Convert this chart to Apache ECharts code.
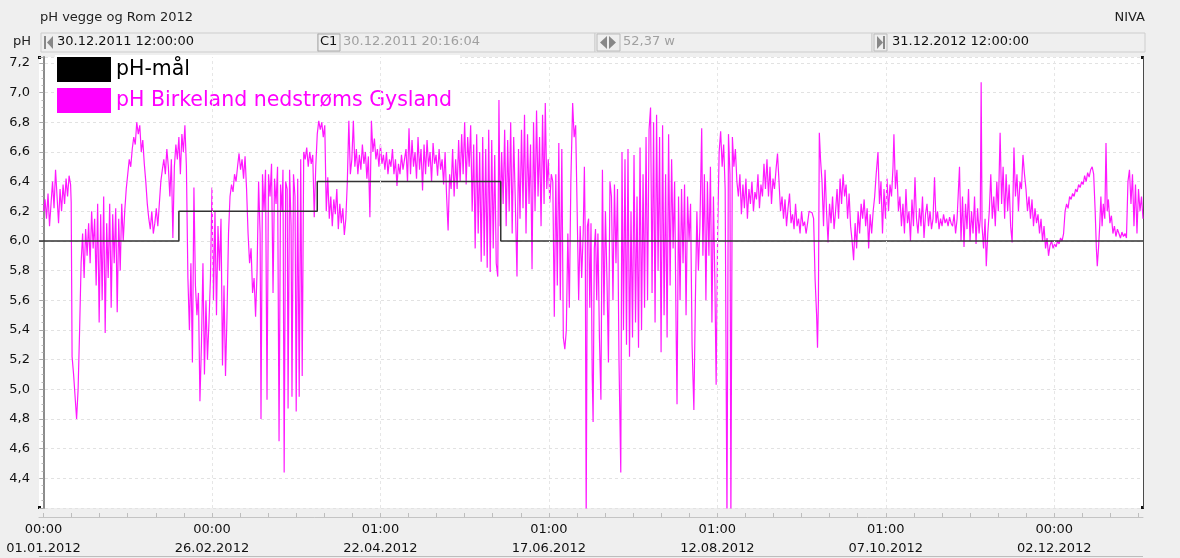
<!DOCTYPE html>
<html>
<head>
<meta charset="utf-8">
<title>pH vegge og Rom 2012</title>
<script src="https://cdn.jsdelivr.net/npm/echarts@6/dist/echarts.min.js"></script>
<style>
html, body { margin: 0; padding: 0; background: #efefef; }
#chart { width: 1180px; height: 558px; }
</style>
</head>
<body>
<div id="chart"></div>
<script>
var FONT = 'DejaVu Sans';

// dager regnet fra 01.01.2012 00:00
var targetDays = [-1.5, 45, 91, 152, 365.5];
var targetPh = [6.0, 6.2, 6.4, 6.0, 6.0];

var birkeland = [
    [0,6.20],[0.5,6.28],[1,6.15],[1.5,6.32],[2,6.10],[2.5,6.25],[3,6.40],[3.5,6.22],[4,6.48],[4.5,6.30],[5,6.12],[5.5,6.35],[6,6.20],[6.5,6.38],[7,6.25],[7.5,6.42],[8,6.30],[8.5,6.44],[9,6.38],[9.2,6.26],
    [9.5,5.22],[10,5.10],[10.5,4.95],[11,4.80],[11.5,5.00],[12,5.40],[12.5,5.85],[13,6.05],
    [13.5,5.75],[14,6.08],[14.5,5.90],[15,6.12],[15.5,5.85],[16,6.20],[16.5,5.95],[17,6.15],[17.5,5.70],[18,6.25],[18.5,5.45],[19,6.18],[19.5,5.60],[20,6.30],[20.5,5.38],[21,6.12],[21.5,5.75],[22,6.25],[22.5,5.55],[23,6.18],[23.5,5.85],[24,6.22],[24.5,5.52],[25,6.15],[25.5,5.80],[26,6.25],[26.5,6.00],[27,6.20],[27.5,6.35],
    [28,6.45],[28.5,6.55],[29,6.50],[29.5,6.62],[30,6.70],[30.5,6.65],[31,6.80],[31.5,6.72],[32,6.78],[32.5,6.60],[33,6.68],[33.5,6.52],
    [34,6.40],[34.5,6.25],[35,6.15],[35.5,6.08],[36,6.20],[36.5,6.05],[37,6.12],[37.5,6.22],[38,6.10],[38.5,6.25],
    [39,6.40],[39.5,6.48],[40,6.55],[40.5,6.45],[41,6.62],[41.5,6.50],[42,6.30],[42.5,6.55],[43,6.02],[43.5,6.50],[44,6.65],[44.5,6.55],[45,6.70],[45.5,6.45],[46,6.72],[46.5,6.60],[47,6.78],[47.5,6.50],
    [48,5.75],[48.5,5.40],[49,5.85],[49.5,5.18],[50,6.36],[50.5,5.70],[51,5.50],[51.5,5.65],[52,4.92],[52.5,5.30],[53,5.85],[53.5,5.10],[54,5.60],[54.5,5.20],[55,5.45],[55.5,5.75],[56,6.36],[56.5,5.60],[57,6.20],[57.5,5.50],[58,6.10],[58.5,5.80],[59,6.15],
    [59.5,5.16],[60,5.70],[60.5,5.09],[61,5.50],[61.5,6.05],
    [62,6.30],[62.5,6.38],[63,6.33],[63.5,6.45],[64,6.40],[64.5,6.50],[65,6.59],[65.5,6.48],[66,6.55],[66.5,6.42],[67,6.57],[67.5,6.35],
    [68,6.05],[68.5,5.85],[69,5.95],[69.5,5.65],[70,5.75],[70.5,5.49],[71,5.80],
    [71.5,6.40],[72,6.05],[72.3,4.80],[72.8,6.45],[73.3,6.20],[73.8,6.48],[74.3,4.93],[74.8,6.45],[75.3,6.30],[75.8,6.52],[76.3,5.65],[76.8,6.42],[77.3,6.25],[77.8,6.50],[78.3,4.65],[78.8,6.38],[79.3,6.20],[79.6,6.48],[80,4.44],[80.5,6.40],[81,6.35],[81.3,4.87],[81.8,6.48],[82.3,6.10],[82.6,4.95],[83.1,6.45],[83.6,6.30],[84,4.85],[84.5,6.42],[85,4.95],[85.5,6.55],[86,5.09],[86.5,6.60],
    [87,6.55],[87.5,6.63],[88,6.50],[88.5,6.60],[89,6.52],[89.5,6.58],[90,6.16],[90.5,6.50],
    [91,6.72],[91.5,6.81],[92,6.75],[92.5,6.80],[93,6.70],[93.5,6.78],
    [94,6.20],[94.5,6.43],[95,6.15],[95.5,6.30],[96,6.10],[96.5,6.28],[97,6.18],[97.5,6.35],[98,6.08],[98.5,6.25],[99,6.12],[99.5,6.22],[100,6.04],[100.5,6.15],
    [101,6.40],[101.5,6.81],[102,6.45],[102.5,6.55],[103,6.81],[103.5,6.50],[104,6.62],[104.5,6.45],[105,6.58],[105.5,6.48],[106,6.65],[106.5,6.52],[107,6.60],[107.5,6.42],[108,6.57],[108.5,6.16],[109,6.81],[109.5,6.60],
    [110,6.69],[110.5,6.55],[111,6.62],[111.5,6.50],[112,6.65],[112.5,6.52],[113,6.58],[113.5,6.48],[114,6.60],[114.5,6.45],[115,6.55],[115.5,6.50],[116,6.62],[116.5,6.45],[117,6.55],[117.5,6.37],[118,6.52],[118.5,6.45],[119,6.58],[119.5,6.48],[120,6.55],
    [120.5,6.62],[121,6.40],[121.5,6.76],[122,6.45],[122.5,6.68],[123,6.50],[123.5,6.60],[124,6.42],[124.5,6.70],[125,6.48],[125.5,6.62],[126,6.34],[126.5,6.65],[127,6.45],[127.5,6.68],[128,6.50],[128.5,6.60],[129,6.40],[129.5,6.66],[130,6.52],[130.5,6.58],[131,6.44],[131.5,6.62],[132,6.48],[132.5,6.55],[133,6.38],[133.5,6.60],[134,6.30],[134.5,6.07],[135,6.45],[135.5,6.35],[136,6.62],[136.5,6.30],[137,6.55],[137.5,6.35],[138,6.68],[138.5,6.40],[139,6.72],[139.5,6.45],[140,6.80],[140.5,6.38],[141,6.70],[141.5,6.50],[142,6.78],
    [142.5,6.20],[143,6.65],[143.5,5.95],[144,6.72],[144.5,6.05],[145,6.60],[145.5,5.86],[146,6.70],[146.5,5.90],[147,6.62],[147.5,5.82],[148,6.75],[148.5,5.79],[149,6.68],[149.5,5.95],[150,6.58],[150.5,5.85],[151,5.76],[151.4,6.95],[151.8,6.10],
    [152.3,6.60],[152.8,6.25],[153.3,6.75],[153.8,6.10],[154.3,6.68],[154.8,6.20],[155.3,6.80],[155.8,6.05],[156.3,6.70],[156.8,6.30],[157.4,5.76],[157.9,6.62],[158.4,6.15],[158.9,6.75],[159.4,6.22],[159.9,6.85],[160.4,6.05],[160.9,6.72],[161.4,6.25],[161.9,6.65],[162.4,5.81],[162.9,6.80],[163.4,6.20],[163.9,6.88],[164.4,6.30],[164.9,6.70],[165.4,6.10],[165.9,6.85],[166.4,6.25],[166.8,6.93],[167.3,6.35],[167.8,6.55],[168.3,6.26],[168.8,6.45],[169.3,6.40],
    [169.8,5.49],[170.3,6.45],[170.8,5.70],[171.3,6.66],[171.8,5.60],[172.3,6.62],[172.8,5.35],[173.3,5.27],[173.8,5.40],[174.3,6.05],[174.8,5.55],[175.3,6.40],[175.9,6.93],[176.4,6.70],[176.9,6.78],[177.4,6.20],[177.9,5.60],[178.4,6.10],[178.9,5.75],[179.4,6.05],
    [179.8,6.50],[180.1,6.00],[180.4,4.10],[180.8,6.10],[181.2,6.15],[181.6,5.55],[182,6.12],[182.4,5.10],[182.7,4.78],[183.1,5.95],[183.5,6.08],[183.9,5.60],[184.3,6.05],[184.8,5.35],
    [185.3,4.93],[185.8,6.48],[186.3,5.50],[186.8,6.20],[187.3,5.75],[187.8,5.18],[188.3,6.40],[188.8,6.30],[189.3,5.60],[189.8,6.38],[190.3,5.85],[190.8,6.35],[191.3,5.20],
    [191.9,4.44],[192.3,6.60],[192.8,5.40],[193.3,6.55],[193.8,5.30],[194.3,6.62],[194.8,5.22],[195.3,6.20],[195.8,5.35],[196.3,6.58],[196.8,5.45],[197.3,6.30],[197.8,5.28],[198.3,6.63],[198.8,5.40],[199.3,6.45],[199.8,5.55],[200.3,6.70],[200.8,5.60],
    [201.3,6.75],[201.8,6.90],[202.3,5.65],[202.8,6.80],[203.3,5.45],[203.8,6.85],[204.3,5.80],[204.8,6.70],[205.3,5.25],[205.8,6.78],[206.3,5.50],[206.8,6.45],[207.3,5.35],[207.8,6.72],[208.3,5.70],[208.8,6.55],
    [209.3,5.95],[209.8,6.40],[210.3,5.40],[210.6,4.90],[211.1,6.30],[211.6,5.60],[212.1,6.35],[212.6,5.85],[213.1,6.38],[213.6,5.50],[214.1,6.30],[214.6,6.00],[215.1,6.25],[215.6,5.30],[216.2,4.86],[216.7,5.60],[217.2,6.20],[217.7,5.80],[218.2,6.10],[218.8,6.76],[219.2,5.90],
    [219.7,6.45],[220.2,5.60],[220.7,6.40],[221.2,5.90],[221.7,6.50],[222.2,5.45],[222.7,6.30],[223.2,5.70],[223.6,5.03],[224.1,6.05],[224.6,6.60],
    [225.1,6.74],[225.6,6.50],[226.1,6.65],[226.6,6.35],[227.2,4.10],[227.7,6.72],[228.2,6.45],[228.5,4.10],[229,6.70],[229.5,6.50],[230,6.62],[230.5,6.40],
    [231,6.30],[231.5,6.45],[232,6.18],[232.5,6.38],[233,6.22],[233.5,6.42],[234,6.15],[234.5,6.35],[235,6.25],[235.5,6.40],[236,6.20],[236.5,6.33],[237,6.28],[237.5,6.45],[238,6.22],[238.5,6.38],[239,6.30],[239.5,6.52],[240,6.35],
    [240.5,6.55],[241,6.30],[241.5,6.50],[242,6.25],[242.5,6.42],[243,6.35],[243.5,6.48],[244,6.59],[244.5,6.40],[245,6.20],[245.5,6.30],
    [246,6.15],[246.5,6.28],[247,6.10],[247.5,6.22],[248,6.32],[248.5,6.12],[249,6.18],[249.5,6.08],[250,6.25],[250.5,6.10],[251,6.15],[251.5,6.05],[252,6.20],[252.5,6.10],[253,6.13],[253.5,6.05],[254,6.12],
    [254.5,6.20],[255,6.20],[255.5,6.19],[256,6.15],
    [256.5,5.74],[257,5.50],[257.3,5.28],[257.6,5.60],[257.9,6.73],[258.3,6.55],
    [258.8,6.40],[259.3,6.10],[259.8,6.48],[260.3,6.20],[260.8,5.99],[261.3,6.25],[261.8,6.12],[262.3,6.30],[262.8,6.08],[263.3,6.20],[263.8,6.35],[264.3,6.15],[264.8,6.42],[265.3,6.25],[265.8,6.45],[266.3,6.30],[266.8,6.38],[267.3,6.15],[267.8,6.32],[268.3,6.10],
    [268.8,6.00],[269.3,5.87],[269.8,6.12],[270.3,5.95],[270.8,6.20],[271.3,6.05],[271.8,6.25],[272.3,6.15],[272.8,6.28],[273.3,6.10],[273.8,6.22],[274.3,5.95],[274.8,6.18],[275.3,6.05],[275.8,6.20],
    [276.3,6.30],[276.8,6.45],[277.4,6.60],[277.9,6.25],[278.4,6.40],[278.9,6.05],[279.4,6.35],[279.9,6.15],[280.4,6.42],[280.9,6.20],[281.4,6.38],[281.9,6.30],[282.4,6.50],[282.7,6.72],[283.2,6.35],[283.7,6.48],[284.2,6.20],[284.7,6.30],
    [285.2,6.10],[285.7,6.25],[286.2,6.05],[286.7,6.35],[287.2,6.12],[287.7,6.20],[288.2,6.00],[288.7,6.28],[289.2,6.10],[289.7,6.43],[290.2,6.15],[290.7,6.05],[291.2,6.22],[291.7,6.10],[292.2,6.30],[292.7,6.02],[293.2,6.18],[293.7,6.25],[294.2,6.10],[294.7,6.20],[295.2,6.08],[295.7,6.15],[296.2,6.43],[296.7,6.12],[297.2,6.20],[297.7,6.08],[298.2,6.15],[298.7,6.10],[299.2,6.18],[299.7,6.12],[300.2,6.15],[300.7,6.10],[301.2,6.16],[301.7,6.12],
    [302.2,6.10],[302.7,6.18],[303.2,6.05],[303.7,6.15],
    [304.5,6.50],[305,6.00],[305.5,6.30],[306,5.96],[306.5,6.25],[307,6.08],[307.5,6.35],[308,6.00],[308.5,6.20],[309,6.05],[309.5,6.30],[310,5.98],[310.5,6.22],[311,6.05],[311.4,6.15],[311.7,7.07],[312,6.10],[312.5,5.95],[313,6.15],[313.4,5.83],[313.9,6.05],
    [314.4,6.20],[314.9,6.45],[315.4,6.15],[315.9,6.30],[316.4,6.10],[316.9,6.40],[317.4,6.20],[318,6.73],[318.5,6.25],[319,6.50],[319.5,6.15],[320,6.45],[320.5,6.20],[321,6.38],[321.5,6.10],[322,5.99],[322.6,6.63],[323.1,6.30],[323.6,6.45],[324.1,6.20],[324.6,6.40],[325.1,6.35],[325.6,6.58],[326.1,6.45],
    [326.6,6.35],[327.1,6.20],[327.6,6.30],[328.1,6.15],[328.6,6.28],[329.1,6.10],[329.6,6.22],[330.1,6.12],[330.6,6.18],[331.1,6.05],[331.6,6.15],[332.1,6.00],[332.6,6.10],
    [333.1,5.95],[333.6,6.02],[334.1,5.90],[334.6,5.97],[335.1,6.00],[335.6,5.95],[336.1,5.98],[336.6,5.96],[337.1,6.00],[337.6,5.98],[338.1,6.02],[338.6,6.00],[339.1,6.05],
    [339.6,6.20],[340.1,6.25],[340.6,6.22],[341.1,6.30],[341.6,6.28],[342.1,6.32],[342.6,6.30],[343.1,6.35],[343.6,6.33],[344.1,6.38],[344.6,6.36],[345.1,6.40],[345.6,6.38],[346.1,6.44],[346.6,6.40],[347.1,6.46],[347.6,6.43],[348.1,6.48],[348.6,6.50],[349.1,6.45],
    [349.6,6.20],[350,5.95],[350.3,5.83],[350.7,5.95],[351.1,6.10],
    [351.5,6.30],[351.9,6.10],[352.3,6.25],[352.8,6.15],[353.2,6.66],[353.6,6.20],[354,6.28],
    [354.5,6.12],[355,6.17],[355.5,6.05],[356,6.10],[356.5,6.03],[357,6.08],[357.5,6.05],[358,6.02],[358.5,6.06],[359,6.03],[359.5,6.05],[360,6.02],
    [360.5,6.40],[361,6.48],[361.5,6.25],[362,6.45],[362.5,6.10],[363,6.38],[363.5,6.05],[364,6.35],[364.5,6.20],[365,6.30],[365.5,6.15]
];

var tickDays = [0, 56, 112, 168, 224, 280, 336];
var tickTimes = ['00:00', '00:00', '01:00', '01:00', '01:00', '01:00', '00:00'];
var tickDates = ['01.01.2012', '26.02.2012', '22.04.2012', '17.06.2012', '12.08.2012', '07.10.2012', '02.12.2012'];

var seriesNames = ['pH-mål', 'pH Birkeland nedstrøms Gysland'];

// små streker mellom hovedmerkene
var minorTicks = [];
for (var t = 0; t <= 365.5; t += 56 / 6) {
    minorTicks.push(t);
}

var chart = echarts.init(document.getElementById('chart'));

function yLabel(v) {
    if (v < 4.3 || Math.abs(v * 5 - Math.round(v * 5)) > 0.01) {
        return '';
    }
    return v.toFixed(1).replace('.', ',');
}

function xLabel(v) {
    for (var i = 0; i < tickDays.length; i++) {
        if (Math.abs(tickDays[i] - v) < 0.01) {
            return tickTimes[i] + '\n' + tickDates[i];
        }
    }
    return '';
}

var txt = function (x, y, s, color, extra) {
    var o = {
        type: 'text', x: x, y: y, silent: true,
        style: { text: s, fill: color || '#111', font: '13px "' + FONT + '"' }
    };
    if (extra) {
        for (var k in extra) { o.style[k] = extra[k]; }
    }
    return o;
};

var rowBox = function (x, w) {
    return {
        type: 'rect', silent: true,
        shape: { x: x, y: 33, width: w, height: 19 },
        style: { fill: '#efefef', stroke: '#cdcdcd', lineWidth: 1 }
    };
};

var option = {
    animation: false,
    backgroundColor: '#efefef',
    textStyle: { fontFamily: FONT },
    grid: {
        left: 39, right: 37, top: 57, bottom: 50,
        show: true, backgroundColor: '#ffffff', borderWidth: 0
    },
    legend: {
        orient: 'vertical',
        left: 55, top: 55,
        itemWidth: 54, itemHeight: 25, itemGap: 6,
        padding: [2, 8, 2, 2],
        backgroundColor: '#ffffff',
        selectedMode: false,
        textStyle: { fontSize: 20.5, fontFamily: FONT, color: '#000' },
        data: [
            { name: seriesNames[0], icon: 'rect', textStyle: { color: '#000000' } },
            { name: seriesNames[1], icon: 'rect', textStyle: { color: '#ff00ff' } }
        ]
    },
    xAxis: {
        type: 'value',
        min: -1.5, max: 365.5,
        offset: 9,
        axisLine: { show: true, lineStyle: { color: '#c4c4c4', width: 1 } },
        axisTick: { show: true, inside: true, length: 4, customValues: minorTicks, lineStyle: { color: '#bdbdbd' } },
        axisLabel: {
            customValues: tickDays, formatter: xLabel,
            margin: 3, color: '#111', fontSize: 13, lineHeight: 19, fontFamily: FONT
        },
        splitLine: { show: false }
    },
    yAxis: [{
        type: 'value',
        min: 4.2, max: 7.24, interval: 0.2,
        axisLine: { show: true, lineStyle: { color: '#8c8c8c', width: 2 } },
        axisTick: { show: true, length: 4, lineStyle: { color: '#aaa' } },
        minorTick: { show: true, splitNumber: 4, length: 2, lineStyle: { color: '#bbb' } },
        axisLabel: { formatter: yLabel, margin: 9, color: '#111', fontSize: 13, fontFamily: FONT },
        splitLine: { show: true, lineStyle: { color: '#e2e2e2', type: [3, 3] } }
    }, {
        type: 'value',
        position: 'right',
        min: 4.2, max: 7.24, interval: 0.2,
        axisLine: { show: true, lineStyle: { color: '#4a4a4a', width: 1 } },
        axisTick: { show: false },
        axisLabel: { show: false },
        splitLine: { show: false }
    }],
    series: [{
        name: seriesNames[1],
        type: 'line',
        data: birkeland,
        showSymbol: false,
        symbol: 'none',
        sampling: 'none',
        itemStyle: { color: '#ff00ff' },
        lineStyle: { color: '#ff00ff', width: 1.2, opacity: 0.9 },
        markLine: {
            silent: true,
            symbol: ['none', 'none'],
            label: { show: false },
            lineStyle: { color: '#e6e6e6', type: [3, 3], width: 1 },
            data: tickDays.slice(1).map(function (d) { return { xAxis: d }; })
        },
        z: 2
    }, {
        name: seriesNames[0],
        type: 'line',
        step: 'end',
        data: targetDays.map(function (d, i) { return [d, targetPh[i]]; }),
        showSymbol: false,
        symbol: 'none',
        itemStyle: { color: '#000000' },
        lineStyle: { color: '#333333', width: 1.5 },
        z: 3
    }],
    graphic: [
        txt(40, 11, 'pH vegge og Rom 2012', '#222'),
        txt(1145, 11, 'NIVA', '#222', { align: 'right' }),
        rowBox(41, 277),
        rowBox(318, 277),
        rowBox(595, 277),
        rowBox(872, 273),
        txt(13, 35, 'pH', '#222'),
        { type: 'rect', silent: true, shape: { x: 44, y: 36, width: 2, height: 13 }, style: { fill: '#888' } },
        { type: 'polygon', silent: true, shape: { points: [[53, 36], [53, 49], [47, 42.5]] }, style: { fill: '#888' } },
        txt(57, 35, '30.12.2011 12:00:00', '#111'),
        { type: 'rect', silent: true, shape: { x: 318, y: 34, width: 22, height: 17 }, style: { fill: '#efefef', stroke: '#aaa' } },
        txt(320, 35, 'C1', '#111'),
        txt(343, 35, '30.12.2011 20:16:04', '#a0a0a0'),
        { type: 'rect', silent: true, shape: { x: 597, y: 34, width: 23, height: 17 }, style: { fill: '#efefef', stroke: '#bbb' } },
        { type: 'polygon', silent: true, shape: { points: [[607, 36], [607, 49], [600, 42.5]] }, style: { fill: '#888' } },
        { type: 'polygon', silent: true, shape: { points: [[609, 36], [609, 49], [616, 42.5]] }, style: { fill: '#888' } },
        txt(623, 35, '52,37 w', '#a0a0a0'),
        { type: 'rect', silent: true, shape: { x: 874, y: 34, width: 13, height: 17 }, style: { fill: '#efefef', stroke: '#bbb' } },
        { type: 'polygon', silent: true, shape: { points: [[877, 36], [877, 49], [883, 42.5]] }, style: { fill: '#888' } },
        { type: 'rect', silent: true, shape: { x: 883, y: 36, width: 2, height: 13 }, style: { fill: '#888' } },
        txt(892, 35, '31.12.2012 12:00:00', '#111'),
        { type: 'rect', silent: true, shape: { x: 38, y: 56, width: 3, height: 3 }, style: { fill: '#111' } },
        { type: 'rect', silent: true, shape: { x: 38, y: 506, width: 3, height: 3 }, style: { fill: '#111' } },
        { type: 'rect', silent: true, shape: { x: 1141, y: 56, width: 3, height: 3 }, style: { fill: '#111' } },
        { type: 'rect', silent: true, shape: { x: 1141, y: 506, width: 3, height: 3 }, style: { fill: '#111' } },
        { type: 'line', silent: true, shape: { x1: 39, y1: 556.5, x2: 1143, y2: 556.5 }, style: { stroke: '#bdbdbd', lineWidth: 1 } }
    ]
};

chart.setOption(option);
</script>
</body>
</html>
